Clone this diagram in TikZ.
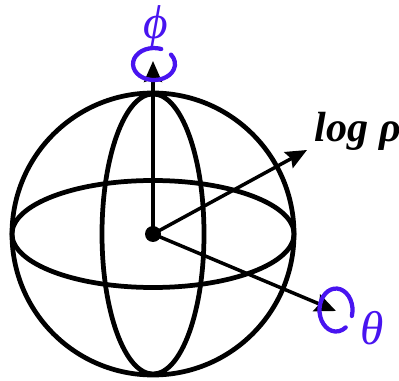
\documentclass[tikz,border=0pt]{standalone}
\usepackage{fontspec}
\setmainfont{Liberation Serif}
\usetikzlibrary{arrows.meta}
\definecolor{curl}{RGB}{72,20,240}
\begin{document}
\begin{tikzpicture}[
  wire/.style={line width=0.095cm},
  axis/.style={line width=0.07cm,-{Stealth[length=0.42cm,width=0.36cm,inset=0.06cm]}},
  turn/.style={curl,line width=0.085cm,line cap=round},
  curlabel/.style={curl,font=\fontsize{27pt}{29pt}\selectfont\itshape,inner sep=0pt},
  loglabel/.style={font=\fontsize{24pt}{26pt}\selectfont\bfseries\itshape,inner sep=0pt}]
  \useasboundingbox (-3.06,-2.92) rectangle (4.92,4.68);
  \draw[wire] (0,0) circle (2.82);
  \draw[wire] (0,0) ellipse (2.82 and 1.07);
  \draw[wire] (0,0) ellipse (1.02 and 2.8);
  \node[circle,fill=black,inner sep=0pt,minimum size=0.32cm] (o) at (0,0) {};
  \coordinate (phitip) at (0,3.46);
  \coordinate (rhotip) at (3.08,1.68);
  \coordinate (thetatip) at (3.66,-1.54);
  \draw[axis] (o.center)--(phitip);
  \draw[axis] (o.center)--(rhotip);
  \draw[axis] (o.center)--(thetatip);
  \draw[turn] (0.164,3.70) arc (70:396:0.42 and 0.32);
  \draw[turn] (3.977,-1.639) arc (-16:306:0.33 and 0.43);
  \node[curlabel] (phi) at (0.06,4.14) {ϕ};
  \node[loglabel] (logrho) at (4.1,2.06) {log ρ};
  \node[curlabel] (theta) at (4.38,-1.88) {θ};
\end{tikzpicture}
\end{document}
